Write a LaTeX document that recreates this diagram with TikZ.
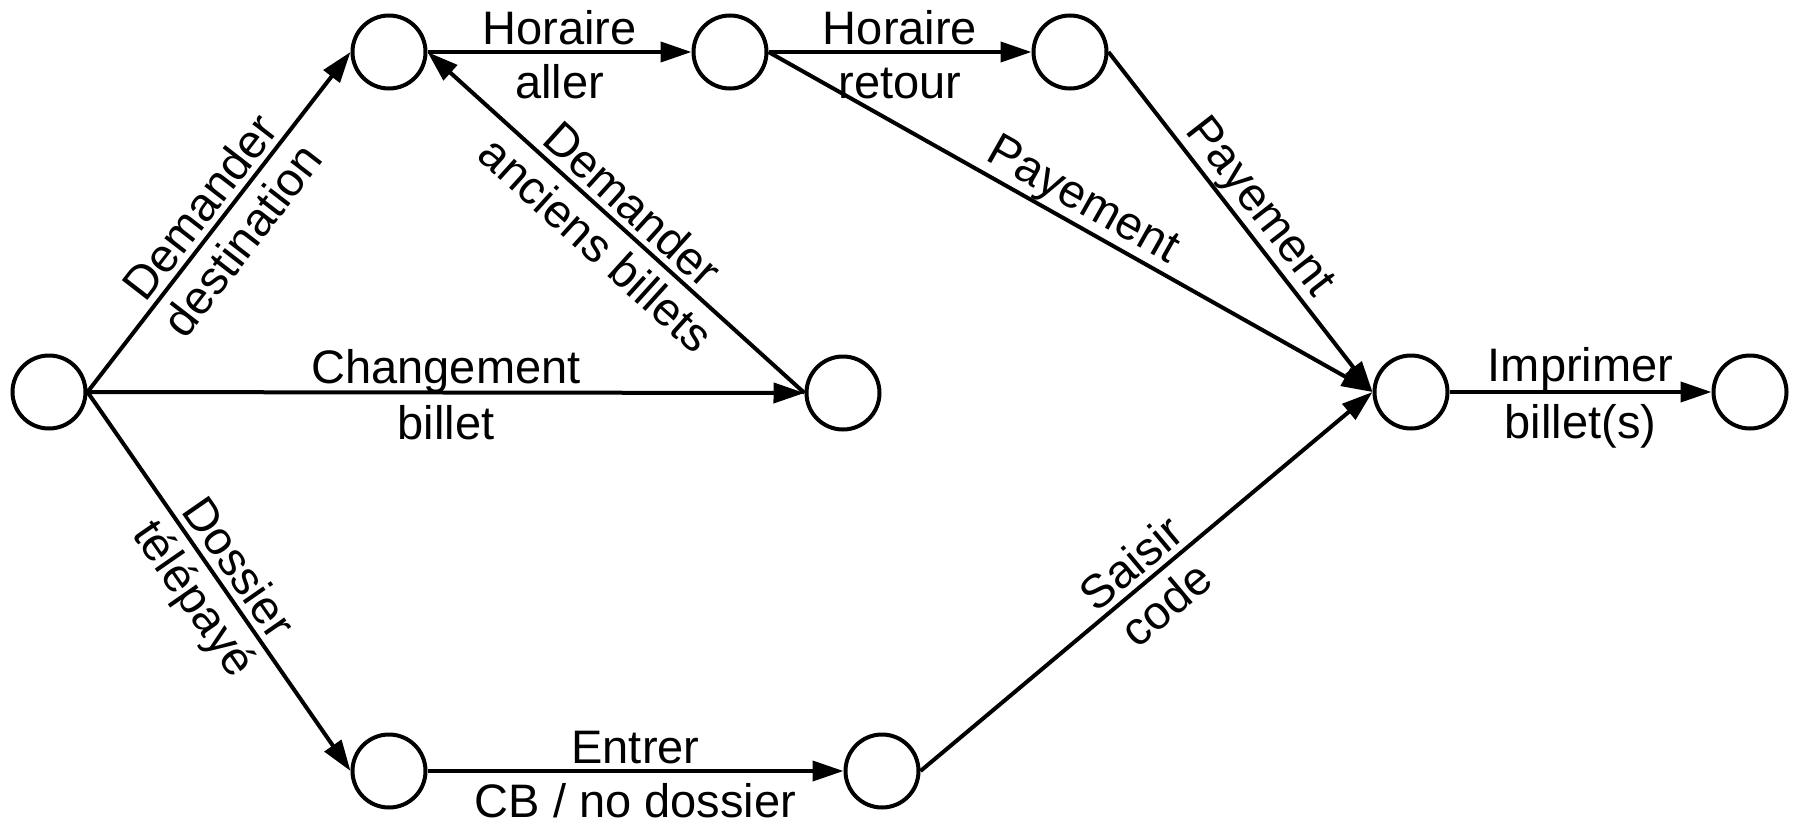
\documentclass[tikz,border=0pt]{standalone}
\usepackage{fontspec}
\setmainfont{Liberation Sans}
\usetikzlibrary{arrows.meta}
\newcommand{\lst}{\rule[-8pt]{0pt}{54pt}}
\begin{document}
\begin{tikzpicture}[x=1pt,y=-1pt,
  st/.style={circle,draw,line width=4pt,minimum size=73pt,inner sep=0pt},
  edge/.style={line width=4pt,-{Triangle[length=31pt,width=20pt]}},
  lbl/.style={font=\fontsize{47}{54}\selectfont,align=center,inner sep=0pt,text=black},
]
\useasboundingbox (0,0) rectangle (1797,819);
\node[st] (a) at (49,392) {};
\node[st] (b) at (389,52) {};
\node[st] (c) at (730,52) {};
\node[st] (d) at (1070,52) {};
\node[st] (e) at (843,393) {};
\node[st] (f) at (1411,392) {};
\node[st] (g) at (1750,392) {};
\node[st] (h) at (389,771) {};
\node[st] (i) at (882,771) {};

\draw[edge] (a.east) -- (b.west) node[lbl,midway,sloped] {\lst Demander\\\lst destination};
\draw[edge] (b.east) -- (c.west) node[lbl,midway] {\lst Horaire\\\lst aller};
\draw[edge] (c.east) -- (d.west) node[lbl,midway] {\lst Horaire\\\lst retour};
\draw[edge] (e.west) -- (b.east) node[lbl,midway,sloped] {\lst Demander\\\lst anciens billets};
\draw[edge] (a.east) -- (e.west) node[lbl,midway] {\lst Changement\\\lst billet};
\draw[edge] (a.east) -- (h.west) node[lbl,midway,sloped] {\lst Dossier\\\lst télépayé};
\draw[edge] (h.east) -- (i.west) node[lbl,midway] {\lst Entrer\\\lst CB / no dossier};
\draw[edge] (i.east) -- (f.west) node[lbl,midway,sloped] {\lst Saisir\\\lst code};
\draw[edge] (c.east) -- (f.west) node[lbl,midway,sloped,anchor=south] {\lst Payement};
\draw[edge] (d.east) -- (f.west) node[lbl,midway,sloped,anchor=south] {\lst Payement};
\draw[edge] (f.east) -- (g.west) node[lbl,midway] {\lst Imprimer\\\lst billet(s)};
\end{tikzpicture}
\end{document}
